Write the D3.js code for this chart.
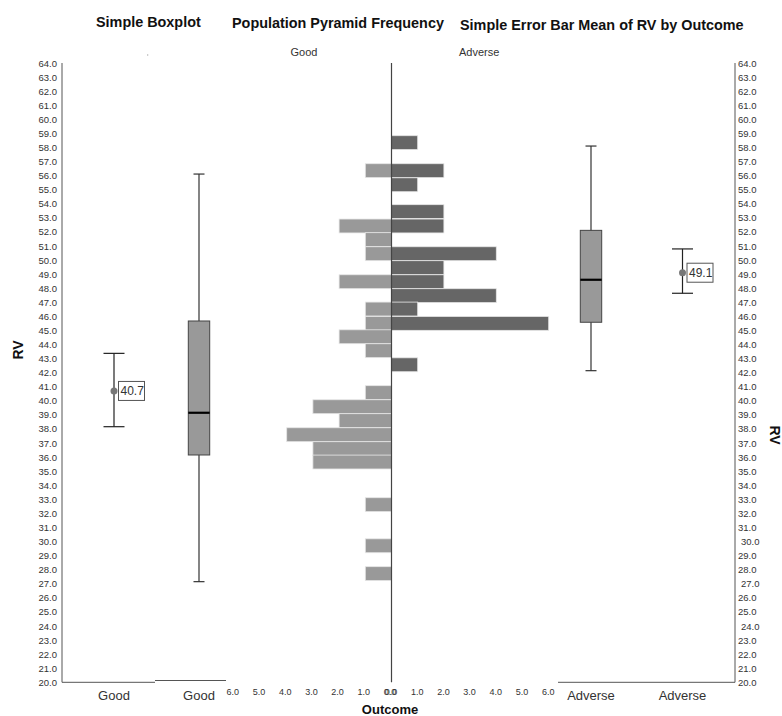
<!DOCTYPE html>
<html><head><meta charset="utf-8">
<script src="https://cdn.jsdelivr.net/npm/d3@7"></script>
<style>body{margin:0;background:#fff}svg{display:block}text{font-family:Arial,"Liberation Sans",sans-serif}</style>
</head><body><svg id="c" width="782" height="716"></svg>
<script>
// ---------- data ----------
const yTicks = [20,21,22,23,24,25,26,27,28,29,30,31,32,33,34,35,36,37,38,39,40,41,42,43,44,45,46,47,48,49,50,51,52,53,54,55,56,57,58,59,60,61,62,63,64];
const rightNudged = [30,27,24];
const outcomes = ["Good","Adverse"];
// population pyramid: bin centre (RV) and frequency
const goodBins   = [56.35,52.42,51.45,50.45,48.46,46.52,45.50,44.55,43.56,40.58,39.58,38.59,37.59,36.60,35.65,32.62,29.70,27.72];
const goodCounts = [1,2,1,1,2,1,1,2,1,1,3,2,4,3,3,1,1,1];
const advBins    = [58.34,56.35,55.35,53.44,52.42,50.45,49.46,48.46,47.47,46.52,45.50,42.56];
const advCounts  = [1,2,1,2,2,4,2,2,4,1,6,1];
const binWidth = 0.988;
const pyrTicks = [0,1,2,3,4,5,6];
// boxplots [min, q1, median, q3, max]
const goodBox = [27.15,36.15,39.15,45.67,56.11];
const advBox  = [42.14,45.58,48.60,52.11,58.10];
// error bars [low, mean, high]
const goodErr = [38.16,40.7,43.37];
const advErr  = [47.64,49.1,50.79];

// ---------- layout ----------
const svg = d3.select("#c");
const yTop = 63, yBot = 682.3, xL = 62, xR = 735, xC = 391.5;
const y = d3.scaleLinear().domain([20,64]).range([yBot, yTop]);
const fmt = d3.format(".1f");

// titles
const titles = [["Simple Boxplot",96,27],["Population Pyramid Frequency",232,28],["Simple Error Bar Mean of RV by Outcome",460,30]];
svg.selectAll("text.title").data(titles).join("text").attr("class","title")
  .attr("x",d=>d[1]).attr("y",d=>d[2]).attr("font-size","14.4px").attr("font-weight","bold").attr("fill","#111").text(d=>d[0]);
svg.append("circle").attr("cx",147.7).attr("cy",55).attr("r",0.7).attr("fill","#aaa");
svg.append("text").attr("x",304).attr("y",56).attr("text-anchor","middle").attr("font-size","11px").attr("fill","#333").text("Good");
svg.append("text").attr("x",459).attr("y",56).attr("font-size","11px").attr("fill","#333").text("Adverse");

// y axes
const gl = svg.append("g").attr("transform",`translate(${xL},0)`)
  .call(d3.axisLeft(y).tickValues(yTicks).tickSize(0).tickPadding(5).tickFormat(fmt));
const gr = svg.append("g").attr("transform",`translate(${xR},0)`)
  .call(d3.axisRight(y).tickValues(yTicks).tickSize(0).tickPadding(3).tickFormat(fmt));
[gl,gr].forEach(g=>{g.select(".domain").remove();g.selectAll("text").attr("font-size","9.5px").attr("fill","#333").attr("font-family","Arial, 'Liberation Sans', sans-serif");});
gr.selectAll(".tick text").attr("dx",d=>rightNudged.includes(d)?3:0);
svg.append("line").attr("x1",xL).attr("x2",xL).attr("y1",yTop).attr("y2",yBot).attr("stroke","#555");
svg.append("line").attr("x1",xR).attr("x2",xR).attr("y1",yTop).attr("y2",yBot).attr("stroke","#555");
svg.append("text").attr("transform","translate(23,350) rotate(-90)").attr("text-anchor","middle").attr("font-size","14px").attr("font-weight","bold").attr("fill","#111").text("RV");
svg.append("text").attr("transform","translate(770,435) rotate(90)").attr("text-anchor","middle").attr("font-size","14px").attr("font-weight","bold").attr("fill","#111").text("RV");

// baselines of category panels
[[xL,155,yBot],[155,226,680.5],[558,xR,yBot]].forEach(s=>svg.append("line").attr("x1",s[0]).attr("x2",s[1]).attr("y1",s[2]).attr("y2",s[2]).attr("stroke","#555"));

// category scales per panel
const xErrG = d3.scaleBand().domain([outcomes[0]]).range([73,155]);
const xBoxG = d3.scaleBand().domain([outcomes[0]]).range([172,226]);
const xBoxA = d3.scaleBand().domain([outcomes[1]]).range([556,626]);
const xErrA = d3.scaleBand().domain([outcomes[1]]).range([630,735]);
[xErrG,xBoxG,xBoxA,xErrA].forEach(sc=>{
  const g = svg.append("g").attr("transform",`translate(0,${yBot})`).call(d3.axisBottom(sc).tickSize(0).tickPadding(8));
  g.select(".domain").remove();
  g.selectAll("text").attr("font-size","13px").attr("fill","#333").attr("font-family","Arial, 'Liberation Sans', sans-serif");
});

// error bars
function errBar(sc,cat,e){
  const cx = sc(cat)+sc.bandwidth()/2, g = svg.append("g");
  g.append("line").attr("x1",cx).attr("x2",cx).attr("y1",y(e[0])).attr("y2",y(e[2])).attr("stroke","#222").attr("stroke-width",1.2);
  [e[0],e[2]].forEach(v=>g.append("line").attr("x1",cx-10.5).attr("x2",cx+10.5).attr("y1",y(v)).attr("y2",y(v)).attr("stroke","#222").attr("stroke-width",1.2));
  g.append("circle").attr("cx",cx).attr("cy",y(e[1])).attr("r",3.5).attr("fill","#777");
  g.append("rect").attr("x",cx+4.5).attr("y",y(e[1])-9.5).attr("width",26).attr("height",19).attr("fill","#fff").attr("stroke","#555");
  g.append("text").attr("x",cx+6.5).attr("y",y(e[1])+4.5).attr("font-size","12px").attr("fill","#333").text(fmt(e[1]));
}
errBar(xErrG,"Good",goodErr);
errBar(xErrA,"Adverse",advErr);

// boxplots
function boxPlot(sc,cat,b){
  const cx = sc(cat)+sc.bandwidth()/2, g = svg.append("g");
  g.append("line").attr("x1",cx).attr("x2",cx).attr("y1",y(b[0])).attr("y2",y(b[4])).attr("stroke","#333").attr("stroke-width",1.2);
  [b[0],b[4]].forEach(v=>g.append("line").attr("x1",cx-5.5).attr("x2",cx+5.5).attr("y1",y(v)).attr("y2",y(v)).attr("stroke","#333").attr("stroke-width",1.2));
  g.append("rect").attr("x",cx-10.7).attr("y",y(b[3])).attr("width",21.4).attr("height",y(b[1])-y(b[3])).attr("fill","#999").attr("stroke","#444").attr("stroke-width",1);
  g.append("line").attr("x1",cx-10.7).attr("x2",cx+10.7).attr("y1",y(b[2])).attr("y2",y(b[2])).attr("stroke","#000").attr("stroke-width",2.2);
}
boxPlot(xBoxG,"Good",goodBox);
boxPlot(xBoxA,"Adverse",advBox);

// population pyramid
const xLeft = d3.scaleLinear().domain([0,6]).range([xC, xC-157.2]);
const xRight = d3.scaleLinear().domain([0,6]).range([xC, xC+157.2]);
const bh = y(0)-y(binWidth);
const pg = svg.append("g");
pg.selectAll("rect.g").data(goodBins.map((b,i)=>({b,c:goodCounts[i]}))).join("rect").attr("class","g")
  .attr("x",d=>xLeft(d.c)).attr("width",d=>xLeft(0)-xLeft(d.c)).attr("y",d=>y(d.b)-bh/2).attr("height",bh)
  .attr("fill","#999").attr("stroke","#e6e6e6").attr("stroke-width",0.8);
pg.selectAll("rect.a").data(advBins.map((b,i)=>({b,c:advCounts[i]}))).join("rect").attr("class","a")
  .attr("x",xRight(0)).attr("width",d=>xRight(d.c)-xRight(0)).attr("y",d=>y(d.b)-bh/2).attr("height",bh)
  .attr("fill","#666").attr("stroke","#e6e6e6").attr("stroke-width",0.8);
svg.append("line").attr("x1",xC).attr("x2",xC).attr("y1",yTop).attr("y2",yBot).attr("stroke","#444").attr("stroke-width",1.2);
[[xLeft,-2],[xRight,-1]].forEach(([sc,dx])=>{
  const g = svg.append("g").attr("transform",`translate(0,${yBot})`).call(d3.axisBottom(sc).tickValues(pyrTicks).tickSize(0).tickPadding(6).tickFormat(fmt));
  g.select(".domain").remove();
  g.selectAll("text").attr("font-size","9px").attr("fill","#333").attr("dx",dx).attr("font-family","Arial, 'Liberation Sans', sans-serif");
});
svg.append("text").attr("x",390).attr("y",714).attr("text-anchor","middle").attr("font-size","13px").attr("font-weight","bold").attr("fill","#111").text("Outcome");
</script></body></html>
